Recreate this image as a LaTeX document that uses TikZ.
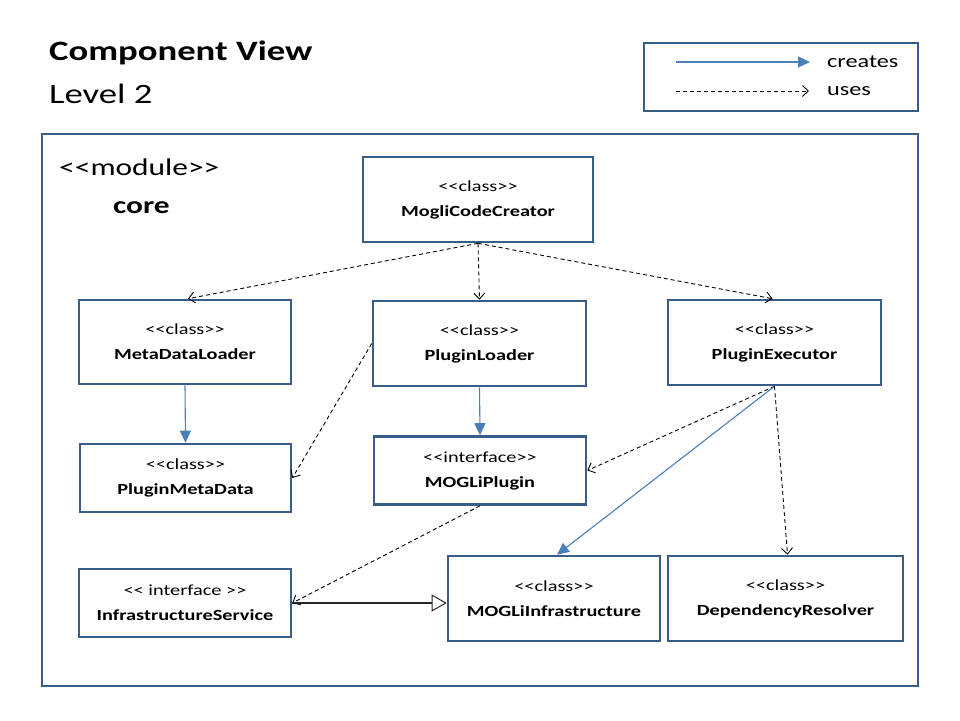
\documentclass[tikz,border=0pt]{standalone}
\usepackage{fontspec}
\setmainfont{Carlito}[FakeStretch=1.31]
\usetikzlibrary{arrows.meta}
\definecolor{boxblue}{HTML}{385D8A}
\definecolor{arrowblue}{HTML}{4A7EBB}
\newcommand{\oq}{<\kern0pt<}
\newcommand{\cq}{>\kern0pt>}
\begin{document}
\begin{tikzpicture}[x=1pt,y=-1pt,
  cls/.style={draw=boxblue,line width=2.6pt,fill=white,rectangle,align=center,
    font=\fontsize{15.5}{25}\selectfont,inner sep=0pt},
  frame/.style={draw=boxblue,line width=2.4pt},
  uses/.style={draw=black,line width=0.9pt,dash pattern=on 4pt off 3pt,
    -{Straight Barb[length=6pt,width=11pt,line width=0.9pt]}},
  creates/.style={draw=arrowblue,line width=1.1pt,
    -{Triangle[length=12pt,width=11pt]}},
  realizes/.style={draw=black!85,line width=1.1pt,
    -{Triangle[open,length=15pt,width=17pt,line width=1pt]}},
  txt/.style={inner sep=0pt,anchor=base west}]
\useasboundingbox (0,0) rectangle (960,720);

% titles
\node[txt,font=\fontsize{28}{30}\selectfont\bfseries] (t1) at (49,60) {Component View};
\node[txt,font=\fontsize{28}{30}\selectfont] (t2) at (49,103) {Level 2};

% legend
\node[frame,rectangle,minimum width=274pt,minimum height=68pt,inner sep=0pt] (legend) at (781,77) {};
\coordinate (c1) at (676,62);
\coordinate (c2) at (810,62);
\coordinate (u1) at (676,91);
\coordinate (u2) at (809,91);
\draw[creates] (c1) -- (c2);
\draw[uses] (u1) -- (u2);
\node[txt,font=\fontsize{18.5}{20}\selectfont,anchor=west] (lc) at (827,62) {creates};
\node[txt,font=\fontsize{18.5}{20}\selectfont,anchor=west] (lu) at (827,91) {uses};

% module frame
\node[frame,rectangle,minimum width=876pt,minimum height=552pt,inner sep=0pt] (module) at (480,410) {};
\node[txt,font=\fontsize{24}{26}\selectfont] (mt) at (59,175) {\oq module\cq};
\node[txt,font=\fontsize{24}{26}\selectfont\bfseries] (mc) at (113,213) {core};

% classes
\node[cls,minimum width=230pt,minimum height=85pt] (mcc) at (478,199.5) {\oq class\cq\\\textbf{MogliCodeCreator}};
\node[cls,minimum width=212pt,minimum height=84pt] (mdl) at (185,342) {\oq class\cq\\\textbf{MetaDataLoader}};
\node[cls,minimum width=213pt,minimum height=85pt] (pl) at (479.5,343.5) {\oq class\cq\\\textbf{PluginLoader}};
\node[cls,minimum width=213pt,minimum height=85pt] (pe) at (774.5,342.5) {\oq class\cq\\\textbf{PluginExecutor}};
\node[cls,minimum width=211pt,minimum height=68pt] (pmd) at (185.5,478) {\oq class\cq\\\textbf{PluginMetaData}};
\node[cls,minimum width=212pt,minimum height=68pt] (mp) at (480,470.5) {\oq interface\cq\\\textbf{MOGLiPlugin}};
\node[cls,minimum width=212pt,minimum height=68pt] (is) at (185,603) {\oq{} interface \cq\\\textbf{InfrastructureService}};
\node[cls,minimum width=212pt,minimum height=85pt] (mi) at (554,598.5) {\oq class\cq\\\textbf{MOGLiInfrastructure}};
\node[cls,minimum width=235pt,minimum height=85pt] (dr) at (785.5,598.5) {\oq class\cq\\\textbf{DependencyResolver}};

% connectors
\draw[uses] (mcc.south) -- ([xshift=3pt]mdl.north);
\draw[uses] (mcc.south) -- (pl.north);
\draw[uses] (mcc.south) -- ([xshift=-2pt]pe.north);
\draw[creates] (mdl.south) -- (pmd.north);
\draw[creates] (pl.south) -- (mp.north);
\draw[uses] (pl.west) -- (pmd.east);
\draw[uses] (pe.south) -- (mp.east);
\draw[creates] (pe.south) -- ([xshift=3pt]mi.north);
\draw[uses] (pe.south) -- ([xshift=2pt]dr.north);
\draw[uses] (mp.south) -- (is.east);
\draw[realizes] (is.east) -- (is.east -| mi.west);
\end{tikzpicture}
\end{document}
